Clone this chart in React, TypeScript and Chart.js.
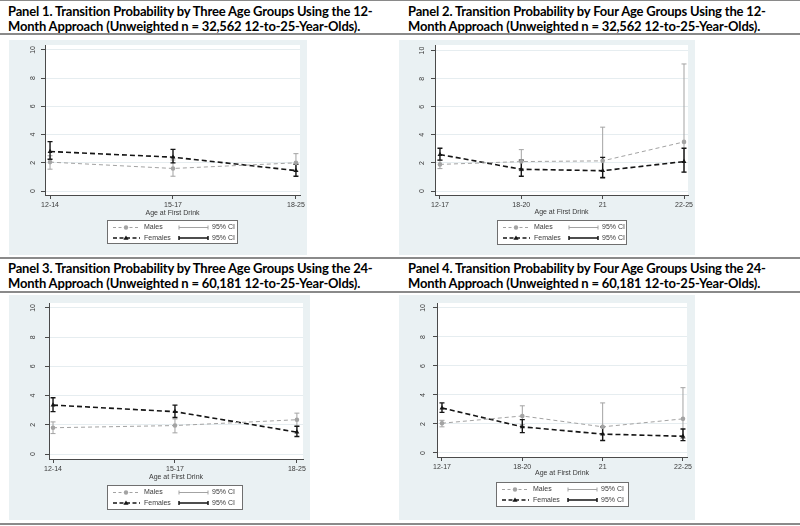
import React, { useEffect, useRef } from "react";
import { Chart, registerables } from "chart.js";
Chart.register(...registerables);

// ---------- data ----------
const cats3 = ["12-14", "15-17", "18-25"];
const cats4 = ["12-17", "18-20", "21", "22-25"];
const yTickValues = [0, 2, 4, 6, 8, 10];
const seriesNames = ["Males", "Females"];
const ciLabel = "95% CI";
const xTitle = "Age at First Drink";

// Panel 1 (12-month, three groups)
const p1Males = [2.05, 1.6, 2.0];
const p1MalesLo = [1.55, 1.05, 1.4];
const p1MalesHi = [2.5, 2.2, 2.65];
const p1Females = [2.8, 2.4, 1.45];
const p1FemalesLo = [2.25, 2.0, 1.05];
const p1FemalesHi = [3.5, 2.95, 1.9];

// Panel 2 (12-month, four groups)
const p2Males = [1.9, 2.1, 2.15, 3.5];
const p2MalesLo = [1.6, 1.45, 1.0, 1.35];
const p2MalesHi = [2.2, 2.95, 4.55, 9.05];
const p2Females = [2.6, 1.55, 1.45, 2.1];
const p2FemalesLo = [2.2, 1.05, 0.95, 1.35];
const p2FemalesHi = [3.05, 2.2, 2.4, 3.05];

// Panel 3 (24-month, three groups)
const p3Males = [1.8, 1.95, 2.35];
const p3MalesLo = [1.4, 1.45, 1.9];
const p3MalesHi = [2.2, 2.4, 2.8];
const p3Females = [3.35, 2.9, 1.5];
const p3FemalesLo = [2.9, 2.5, 1.2];
const p3FemalesHi = [3.85, 3.35, 1.9];

// Panel 4 (24-month, four groups)
const p4Males = [2.05, 2.55, 1.8, 2.35];
const p4MalesLo = [1.8, 1.95, 0.9, 1.0];
const p4MalesHi = [2.25, 3.25, 3.45, 4.5];
const p4Females = [3.1, 1.8, 1.3, 1.15];
const p4FemalesLo = [2.8, 1.4, 0.85, 0.85];
const p4FemalesHi = [3.45, 2.3, 1.8, 1.65];

const titles = [
  ["Panel 1. Transition Probability by Three Age Groups Using the 12-", "Month Approach (Unweighted n = 32,562 12-to-25-Year-Olds)."],
  ["Panel 2. Transition Probability by Four Age Groups Using the 12-", "Month Approach (Unweighted n = 32,562 12-to-25-Year-Olds)."],
  ["Panel 3. Transition Probability by Three Age Groups Using the 24-", "Month Approach (Unweighted n = 60,181 12-to-25-Year-Olds)."],
  ["Panel 4. Transition Probability by Four Age Groups Using the 24-", "Month Approach (Unweighted n = 60,181 12-to-25-Year-Olds)."],
];

// ---------- styles ----------
const MALE_COLOR = "#a3a3a3";
const FEMALE_COLOR = "#151515";
const BG = "#eaf1f3";
const AXIS = "#4a4a4a";
const TXT = "#3a3a3a";
const FONT = "'Liberation Sans', Arial, sans-serif";

const ciPlugin = {
  id: "ciBars",
  beforeDatasetsDraw(chart: any) {
    const { ctx } = chart;
    const xs = chart.scales.x;
    const ys = chart.scales.y;
    chart.data.datasets.forEach((ds: any) => {
      if (!ds.ciLo) return;
      ctx.save();
      ctx.strokeStyle = ds.borderColor;
      ctx.lineWidth = ds.ciWidth;
      ctx.setLineDash([]);
      ds.ciLo.forEach((lo: number, i: number) => {
        const x = xs.getPixelForValue(i);
        const y1 = ys.getPixelForValue(lo);
        const y2 = ys.getPixelForValue(ds.ciHi[i]);
        ctx.beginPath();
        ctx.moveTo(x, y1);
        ctx.lineTo(x, y2);
        ctx.moveTo(x - 2.5, y1);
        ctx.lineTo(x + 2.5, y1);
        ctx.moveTo(x - 2.5, y2);
        ctx.lineTo(x + 2.5, y2);
        ctx.stroke();
      });
      ctx.restore();
    });
  },
};

const bgPlugin = {
  id: "plotBg",
  beforeDraw(chart: any) {
    const { ctx, chartArea: a } = chart;
    ctx.save();
    ctx.fillStyle = "#ffffff";
    ctx.fillRect(a.left, a.top, a.right - a.left, a.bottom - a.top);
    ctx.restore();
  },
};

const legendPlugin = {
  id: "stataLegend",
  afterDraw(chart: any, _args: any, opts: any) {
    const { ctx } = chart;
    const { x, y, w, h } = opts.box;
    ctx.save();
    ctx.fillStyle = "#ffffff";
    ctx.fillRect(x, y, w, h);
    ctx.strokeStyle = "#6f6f6f";
    ctx.lineWidth = 1;
    ctx.strokeRect(x + 0.5, y + 0.5, w - 1, h - 1);
    const rows = [
      { color: MALE_COLOR, lw: 1, dash: [3, 2.5], marker: "circle", name: seriesNames[0], dy: 7.5 },
      { color: FEMALE_COLOR, lw: 1.5, dash: [4, 2.5], marker: "triangle", name: seriesNames[1], dy: 18 },
    ];
    ctx.font = `7px ${FONT}`;
    ctx.textBaseline = "middle";
    rows.forEach((r) => {
      const yy = y + r.dy;
      ctx.strokeStyle = r.color;
      ctx.lineWidth = r.lw;
      ctx.setLineDash(r.dash);
      ctx.beginPath();
      ctx.moveTo(x + 6, yy);
      ctx.lineTo(x + 33, yy);
      ctx.stroke();
      ctx.setLineDash([]);
      ctx.fillStyle = r.color;
      ctx.beginPath();
      if (r.marker === "circle") {
        ctx.arc(x + 19, yy, 2.2, 0, Math.PI * 2);
      } else {
        ctx.moveTo(x + 19, yy - 2.6);
        ctx.lineTo(x + 21.6, yy + 1.8);
        ctx.lineTo(x + 16.4, yy + 1.8);
        ctx.closePath();
      }
      ctx.fill();
      ctx.fillStyle = TXT;
      ctx.textAlign = "left";
      ctx.fillText(r.name, x + 37, yy);
      // CI sample
      const cx1 = x + 72;
      const cx2 = x + 101;
      ctx.beginPath();
      ctx.moveTo(cx1, yy);
      ctx.lineTo(cx2, yy);
      ctx.moveTo(cx1, yy - 2);
      ctx.lineTo(cx1, yy + 2);
      ctx.moveTo(cx2, yy - 2);
      ctx.lineTo(cx2, yy + 2);
      ctx.stroke();
      ctx.fillStyle = TXT;
      ctx.fillText(ciLabel, x + 105, yy);
    });
    ctx.restore();
  },
};

type PanelCfg = {
  left: number; top: number; w: number; h: number;
  plotLeft: number; plotTop: number; padRight: number; plotBottom: number; titleCenter: number;
  xmin: number; xmax: number; ymin: number; ymax: number; ypad: number;
  legend: { x: number; y: number; w: number; h: number };
  cats: string[];
  males: number[]; malesLo: number[]; malesHi: number[];
  females: number[]; femalesLo: number[]; femalesHi: number[];
};

function Panel({ cfg }: { cfg: PanelCfg }) {
  const ref = useRef<HTMLCanvasElement | null>(null);
  useEffect(() => {
    if (!ref.current) return;
    const fontSize = 7;
    const titleOffset = fontSize / 2;
    const xh = cfg.titleCenter + titleOffset - cfg.plotBottom;
    const padBottom = cfg.h - cfg.plotBottom - xh;
    const toPts = (arr: number[]) => arr.map((v, i) => ({ x: i, y: v }));
    const chart = new Chart(ref.current, {
      type: "line",
      data: {
        datasets: [
          {
            label: seriesNames[0],
            data: toPts(cfg.males),
            borderColor: MALE_COLOR,
            backgroundColor: MALE_COLOR,
            borderWidth: 1,
            borderDash: [4, 3],
            pointStyle: "circle",
            pointRadius: 2.3,
            pointBorderWidth: 0,
            pointBackgroundColor: MALE_COLOR,
            tension: 0,
            ciLo: cfg.malesLo,
            ciHi: cfg.malesHi,
            ciWidth: 1,
          } as any,
          {
            label: seriesNames[1],
            data: toPts(cfg.females),
            borderColor: FEMALE_COLOR,
            backgroundColor: FEMALE_COLOR,
            borderWidth: 1.6,
            borderDash: [5, 3],
            pointStyle: "triangle",
            pointRadius: 2.8,
            pointBorderWidth: 0,
            pointBackgroundColor: FEMALE_COLOR,
            tension: 0,
            ciLo: cfg.femalesLo,
            ciHi: cfg.femalesHi,
            ciWidth: 1.4,
          } as any,
        ],
      },
      options: {
        responsive: false,
        animation: false,
        events: [],
        layout: { padding: { left: 0, top: cfg.plotTop, right: cfg.padRight, bottom: padBottom } },
        plugins: {
          legend: { display: false },
          tooltip: { enabled: false },
          stataLegend: { box: cfg.legend },
        } as any,
        scales: {
          x: {
            type: "linear",
            min: cfg.xmin,
            max: cfg.xmax,
            afterBuildTicks: (s: any) => {
              s.ticks = cfg.cats.map((_, i) => ({ value: i }));
            },
            afterFit: (s: any) => {
              s.height = xh;
              s.paddingLeft = 0;
              s.paddingRight = 0;
            },
            ticks: {
              autoSkip: false,
              maxRotation: 0,
              minRotation: 0,
              padding: 2,
              color: TXT,
              font: { family: FONT, size: fontSize },
              callback: (v: any) => cfg.cats[v] ?? "",
            },
            grid: { drawOnChartArea: false, drawTicks: true, tickLength: 4, tickColor: AXIS, tickWidth: 1 },
            border: { display: true, color: AXIS, width: 1 },
            title: {
              display: true,
              text: xTitle,
              color: TXT,
              padding: 0,
              font: { family: FONT, size: fontSize, lineHeight: 1 },
            },
          },
          y: {
            type: "linear",
            min: cfg.ymin,
            max: cfg.ymax,
            afterBuildTicks: (s: any) => {
              s.ticks = yTickValues.map((v) => ({ value: v }));
            },
            afterFit: (s: any) => {
              s.width = cfg.plotLeft;
              s.paddingTop = 0;
              s.paddingBottom = 0;
            },
            ticks: {
              minRotation: 90,
              maxRotation: 90,
              crossAlign: "center",
              padding: cfg.ypad,
              color: TXT,
              font: { family: FONT, size: fontSize },
            },
            grid: { color: "#e6edf0", lineWidth: 1, drawTicks: true, tickLength: 4, tickColor: AXIS },
            border: { display: true, color: AXIS, width: 1 },
          },
        },
      } as any,
      plugins: [bgPlugin, ciPlugin, legendPlugin],
    });
    return () => chart.destroy();
  }, [cfg]);
  return (
    <div style={{ position: "absolute", left: cfg.left, top: cfg.top, width: cfg.w, height: cfg.h, background: BG }}>
      <canvas ref={ref} width={cfg.w} height={cfg.h} style={{ display: "block" }} />
    </div>
  );
}

const panels: PanelCfg[] = [
  {
    left: 9, top: 40, w: 298, h: 215,
    plotLeft: 36, plotTop: 5, padRight: 7, plotBottom: 155, titleCenter: 173,
    xmin: -0.041, xmax: 2.033, ymin: -0.28, ymax: 10.35, ypad: 4,
    legend: { x: 98, y: 180, w: 131, h: 24 },
    cats: cats3,
    males: p1Males, malesLo: p1MalesLo, malesHi: p1MalesHi,
    females: p1Females, femalesLo: p1FemalesLo, femalesHi: p1FemalesHi,
  },
  {
    left: 399, top: 40, w: 296, h: 215,
    plotLeft: 36, plotTop: 5, padRight: 7, plotBottom: 155, titleCenter: 172,
    xmin: -0.061, xmax: 3.049, ymin: -0.28, ymax: 10.4, ypad: 5,
    legend: { x: 98, y: 180, w: 130, h: 25 },
    cats: cats4,
    males: p2Males, malesLo: p2MalesLo, malesHi: p2MalesHi,
    females: p2Females, femalesLo: p2FemalesLo, femalesHi: p2FemalesHi,
  },
  {
    left: 9, top: 295, w: 301, h: 225,
    plotLeft: 40, plotTop: 8, padRight: 7, plotBottom: 164, titleCenter: 182,
    xmin: -0.033, xmax: 2.05, ymin: -0.34, ymax: 10.34, ypad: 8,
    legend: { x: 98, y: 190, w: 136, h: 25 },
    cats: cats3,
    males: p3Males, malesLo: p3MalesLo, malesHi: p3MalesHi,
    females: p3Females, femalesLo: p3FemalesLo, femalesHi: p3FemalesHi,
  },
  {
    left: 399, top: 295, w: 296, h: 225,
    plotLeft: 38, plotTop: 8, padRight: 8, plotBottom: 162, titleCenter: 178,
    xmin: -0.062, xmax: 3.05, ymin: -0.28, ymax: 10.34, ypad: 6,
    legend: { x: 97, y: 187, w: 133, h: 25 },
    cats: cats4,
    males: p4Males, malesLo: p4MalesLo, malesHi: p4MalesHi,
    females: p4Females, femalesLo: p4FemalesLo, femalesHi: p4FemalesHi,
  },
];

const titlePos = [
  { left: 8, top: 4 },
  { left: 408, top: 4 },
  { left: 8, top: 261 },
  { left: 408, top: 261 },
];

const rules = [
  { top: 0, h: 1 },
  { top: 33, h: 2 },
  { top: 257, h: 2 },
  { top: 291, h: 2 },
  { top: 523, h: 2 },
];

export default function App() {
  return (
    <div style={{ position: "absolute", left: 0, top: 0, width: 800, height: 526, background: "#fff", overflow: "hidden" }}>
      {rules.map((r, i) => (
        <div key={"r" + i} style={{ position: "absolute", left: 0, top: r.top, width: 800, height: r.h, background: "#8a8a8a" }} />
      ))}
      {titles.map((t, i) => (
        <div
          key={"t" + i}
          style={{
            position: "absolute",
            left: titlePos[i].left,
            top: titlePos[i].top,
            fontFamily: "Lato, 'Open Sans', sans-serif",
            fontWeight: 700,
            fontSize: 13,
            letterSpacing: "-0.18px",
            lineHeight: "15px",
            color: "#000",
            whiteSpace: "nowrap",
          }}
        >
          <div>{t[0]}</div>
          <div>{t[1]}</div>
        </div>
      ))}
      {panels.map((p, i) => (
        <Panel key={"p" + i} cfg={p} />
      ))}
    </div>
  );
}
